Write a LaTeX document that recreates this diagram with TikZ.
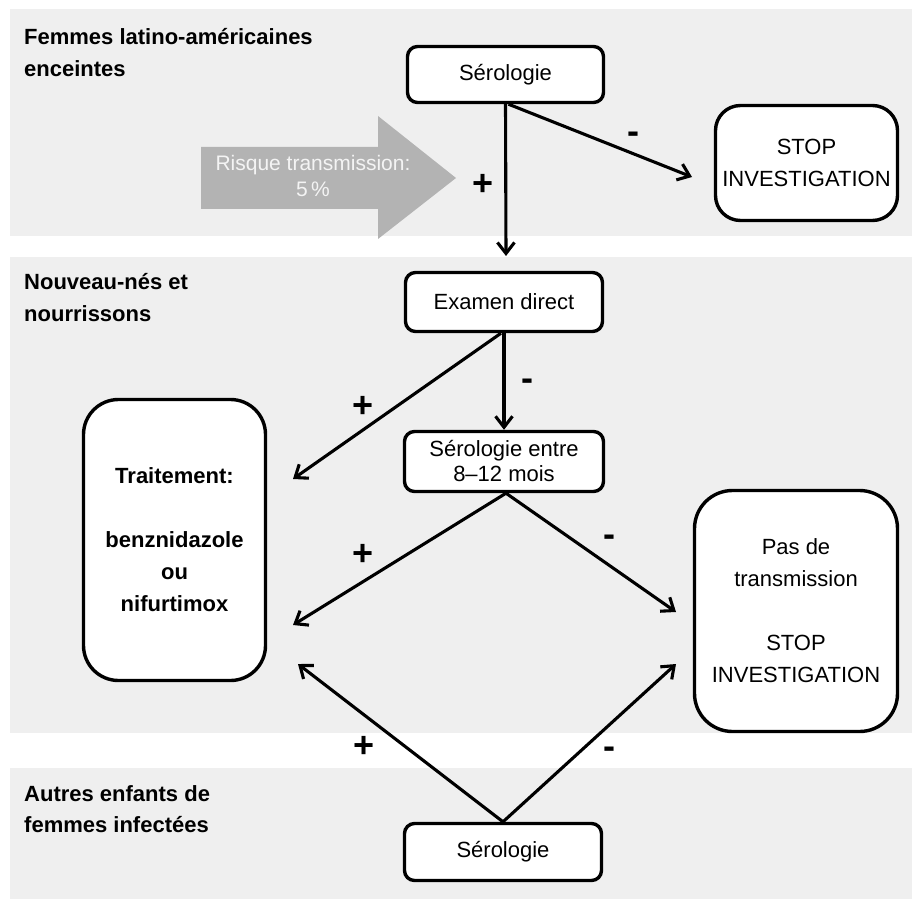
\documentclass[tikz,border=0pt]{standalone}
\usepackage{fontspec}
\setmainfont{Liberation Sans}
\usetikzlibrary{arrows.meta}
\definecolor{band}{HTML}{EFEFEF}
\definecolor{bigarrow}{HTML}{B3B3B3}
\definecolor{softwhite}{HTML}{F4F4F4}
\begin{document}
\begin{tikzpicture}[x=1pt,y=-1pt,
  box/.style={draw, line width=3.4pt, fill=white, rounded corners=#1, inner sep=0pt,
    align=center, font=\fontsize{22}{32}\selectfont},
  box/.default=10pt,
  arr/.style={line width=3.1pt, -{Straight Barb[length=11pt,width=17pt]}},
  region/.style={anchor=base west, inner sep=0pt, font=\fontsize{22}{32}\selectfont\bfseries},
  sign/.style={inner sep=0pt, font=\fontsize{36}{40}\selectfont\bfseries},
  risk/.style={anchor=base, inner sep=0pt, text=softwhite, font=\fontsize{21}{26}\selectfont}]
\useasboundingbox (0,0) rectangle (912,901);
\fill[white] (0,0) rectangle (912,901);
% bands
\fill[band] (10,9) rectangle (912,236);
\fill[band] (10,257) rectangle (912,733);
\fill[band] (10,768) rectangle (912,899);
% region labels
\node[region] (r1a) at (24,45) {Femmes latino-américaines};
\node[region] (r1b) at (24,77) {enceintes};
\node[region] (r2a) at (24,289) {Nouveau-nés et};
\node[region] (r2b) at (24,321) {nourrissons};
\node[region] (r3a) at (24,801) {Autres enfants de};
\node[region] (r3b) at (24,832) {femmes infectées};
% big grey arrow
\fill[bigarrow] (201,147) -- (378,147) -- (378,116) -- (456,178) -- (378,239) -- (378,209) -- (201,209) -- cycle;
\node[risk] (risk1) at (313,171) {Risque transmission:};
\node[risk] (risk2) at (313,197) {5\,\%};
% boxes
\node[box, minimum width=196pt, minimum height=56pt] (s1) at (505.5,74.5) {Sérologie};
\node[box=25pt, minimum width=182pt, minimum height=115pt] (stop1) at (806.5,163) {STOP\\INVESTIGATION};
\node[box, minimum width=197pt, minimum height=59pt] (exam) at (504,302) {Examen direct};
\node[box, minimum width=199pt, minimum height=60pt, font=\fontsize{22}{25}\selectfont] (sero2) at (504,461.5) {Sérologie entre\\8–12 mois};
\node[box=35pt, minimum width=182pt, minimum height=281pt, font=\fontsize{22}{32}\selectfont\bfseries] (treat) at (174.5,540) {Traitement:\\[32pt]benznidazole\\ou\\nifurtimox};
\node[box=38pt, minimum width=203pt, minimum height=241pt] (pas) at (796,611) {Pas de\\transmission\\[32pt]STOP\\INVESTIGATION};
\node[box, minimum width=197pt, minimum height=57pt] (sero3) at (503,852) {Sérologie};
% free ends
\coordinate (t1) at (506,256);
\coordinate (t2) at (692,177);
\coordinate (t3) at (293,479);
\coordinate (t4) at (293,625);
\coordinate (t5) at (676,612);
\coordinate (t6) at (298,664);
\coordinate (t7) at (676,664);
% connectors
\draw[arr] (s1.south) -- (t1);
\draw[arr] ([xshift=3pt]s1.south) -- (t2);
\draw[arr] (exam.south) -- (sero2.north);
\draw[arr] ([xshift=-3pt]exam.south) -- (t3);
\draw[arr] ([xshift=2pt]sero2.south) -- (t4);
\draw[arr] ([xshift=2pt]sero2.south) -- (t5);
\draw[arr] (sero3.north) -- (t6);
\draw[arr] (sero3.north) -- (t7);
% signs
\node[sign] (p1) at (483,185) {+};
\node[sign] (m1) at (633,138) {-};
\node[sign] (m2) at (527,385) {-};
\node[sign] (p2) at (363,407) {+};
\node[sign] (p3) at (363,555) {+};
\node[sign] (m3) at (609,541) {-};
\node[sign] (p4) at (364,747) {+};
\node[sign] (m4) at (609,753) {-};
\end{tikzpicture}
\end{document}
